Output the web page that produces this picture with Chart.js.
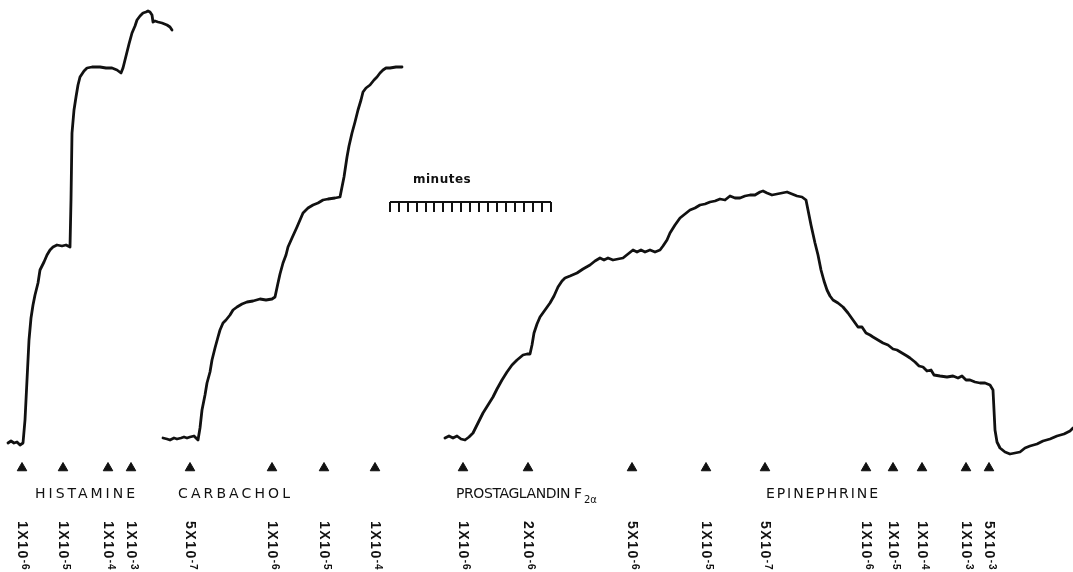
<!DOCTYPE html>
<html>
<head>
<meta charset="utf-8">
<script src="https://cdn.jsdelivr.net/npm/chart.js@4/dist/chart.umd.min.js"></script>
<style>
  html, body { margin: 0; padding: 0; background: #fff; }
  #trace { display: block; }
</style>
</head>
<body>
<canvas id="trace" width="1073" height="572"></canvas>
<script>
// recorder traces (x = time along paper, y = pen position, down is larger)
const histTime = [8, 11, 14, 17, 20, 23, 25, 27, 29, 31, 33, 35, 38, 40, 44, 47, 50, 53, 57, 62, 66, 70, 71, 72, 74, 76, 78, 80, 84, 87, 92, 100, 106, 112, 117, 121, 123, 125, 127, 129, 132, 135, 137, 140, 143, 146, 148, 150, 152, 153, 155, 158, 162, 167, 170, 172]
const histPen  = [443, 441, 443, 442, 445, 443, 420, 380, 340, 318, 305, 295, 283, 270, 262, 255, 250, 247, 245, 246, 245, 247, 200, 133, 110, 97, 85, 77, 71, 68, 67, 67, 68, 68, 70, 73, 68, 60, 52, 44, 33, 26, 20, 16, 13, 12, 11, 12, 15, 22, 21, 22, 23, 25, 27, 30]

const carbTime = [163, 167, 170, 174, 177, 181, 184, 187, 190, 194, 198, 200, 202, 205, 207, 210, 212, 215, 218, 220, 223, 226, 230, 233, 237, 242, 247, 253, 260, 266, 272, 275, 278, 280, 283, 286, 288, 292, 297, 300, 303, 308, 313, 318, 323, 328, 335, 340, 342, 344, 347, 349, 352, 355, 358, 361, 363, 366, 370, 374, 377, 380, 383, 386, 390, 396, 402]
const carbPen  = [438, 439, 440, 438, 439, 438, 437, 438, 437, 436, 440, 428, 410, 395, 383, 372, 360, 348, 337, 330, 323, 320, 315, 310, 307, 304, 302, 301, 299, 300, 299, 297, 283, 274, 263, 255, 247, 238, 227, 220, 213, 208, 205, 203, 200, 199, 198, 197, 187, 177, 157, 146, 133, 122, 110, 100, 92, 88, 85, 80, 77, 73, 70, 68, 68, 67, 67]

const pgTime = [445, 449, 453, 457, 461, 465, 469, 473, 478, 483, 488, 493, 497, 502, 507, 512, 517, 523, 527, 530, 532, 534, 537, 540, 545, 550, 554, 558, 562, 565, 570, 577, 583, 590, 595, 600, 604, 608, 613, 618, 623, 628, 633, 637, 641, 645, 650, 655, 660, 663, 667, 670, 675, 680, 685, 690, 695, 700, 705, 710, 715, 720, 725, 730, 735, 740, 745, 750, 755, 760, 763, 767, 772, 777, 782, 787, 792, 797, 802, 806, 808, 811, 815, 818, 821, 824, 827, 830, 833, 838, 843, 848, 853, 858, 862, 866, 870, 873, 878, 883, 888, 893, 897, 902, 907, 910, 915, 919, 923, 927, 931, 934, 940, 947, 953, 958, 962, 966, 970, 975, 980, 985, 990, 993, 994, 995, 997, 1000, 1005, 1010, 1015, 1020, 1025, 1030, 1037, 1043, 1050, 1057, 1064, 1070, 1073]
const pgPen  = [438, 436, 438, 436, 439, 440, 437, 433, 423, 413, 405, 397, 389, 380, 372, 365, 360, 355, 354, 354, 345, 333, 324, 317, 310, 303, 296, 287, 281, 278, 276, 273, 269, 265, 261, 258, 260, 258, 260, 259, 258, 254, 250, 252, 250, 252, 250, 252, 250, 246, 240, 233, 225, 218, 214, 210, 208, 205, 204, 202, 201, 199, 200, 196, 198, 198, 196, 195, 195, 192, 191, 193, 195, 194, 193, 192, 194, 196, 197, 200, 210, 225, 243, 255, 270, 281, 290, 296, 300, 303, 307, 313, 320, 327, 327, 333, 335, 337, 340, 343, 345, 349, 350, 353, 356, 358, 362, 366, 367, 371, 370, 375, 376, 377, 376, 378, 376, 380, 380, 382, 383, 383, 385, 390, 410, 430, 442, 448, 452, 454, 453, 452, 448, 446, 444, 441, 439, 436, 434, 431, 428]

// drug additions (triangles) and their molar concentrations
const doseTime = [22, 63, 108, 131, 190, 272, 324, 375, 463, 528, 632, 706, 765, 866, 893, 922, 966, 989]
const doseBase = ['1X10', '1X10', '1X10', '1X10', '5X10', '1X10', '1X10', '1X10', '1X10', '2X10', '5X10', '1X10', '5X10', '1X10', '1X10', '1X10', '1X10', '5X10']
const doseExp  = ['-6', '-5', '-4', '-3', '-7', '-6', '-5', '-4', '-6', '-6', '-6', '-5', '-7', '-6', '-5', '-4', '-3', '-3']

const drugNames = ['HISTAMINE', 'CARBACHOL', 'PROSTAGLANDIN F', 'EPINEPHRINE']

// one mark per minute on the time bar
const minuteTicks = [390, 399, 408, 417, 426, 434, 443, 452, 461, 470, 479, 488, 497, 506, 515, 524, 533, 542, 551]

const INK = '#111'
const pts = (xs, ys) => xs.map((x, i) => ({ x: x, y: ys[i] }))

// layout of the hand lettering (not data)
const markRow = 468
const drugRow = 494
const doseTop = 521
const drugLayout = [[35, 135], [178, 290], [456, 582], [766, 878]]
const barRow = 202

const lettering = {
    id: 'lettering',
    afterDatasetsDraw(chart) {
        const ctx = chart.ctx
        const xs = chart.scales.x
        const ys = chart.scales.y
        ctx.save()
        ctx.fillStyle = INK
        ctx.textBaseline = 'middle'

        // drug names, stretched to the lettered width
        drugNames.forEach((name, i) => {
            const [a, b] = drugLayout[i]
            ctx.font = '14px "DejaVu Sans"'
            ctx.letterSpacing = '0px'
            const w = ctx.measureText(name).width
            const sp = ((b - a) - w) / (name.length - 1)
            ctx.letterSpacing = sp.toFixed(2) + 'px'
            ctx.fillText(name, xs.getPixelForValue(a), ys.getPixelForValue(drugRow))
            if (name.startsWith('PROSTAGLANDIN')) {
                ctx.letterSpacing = '0px'
                ctx.font = '10px "DejaVu Sans"'
                ctx.fillText('2α', xs.getPixelForValue(b + 2), ys.getPixelForValue(drugRow + 6))
            }
        })

        // concentrations, written down the page
        doseTime.forEach((t, i) => {
            ctx.save()
            ctx.translate(xs.getPixelForValue(t), ys.getPixelForValue(doseTop))
            ctx.rotate(Math.PI / 2)
            ctx.font = 'bold 14px "Liberation Sans"'
            ctx.letterSpacing = '1.5px'
            ctx.textAlign = 'left'
            ctx.fillText(doseBase[i], 0, 0)
            const w = ctx.measureText(doseBase[i]).width
            ctx.font = 'bold 10px "Liberation Sans"'
            ctx.letterSpacing = '1px'
            ctx.fillText(doseExp[i], w, -3)
            ctx.restore()
        })

        // time bar label
        ctx.letterSpacing = '0.5px'
        ctx.font = 'bold 12px "DejaVu Sans"'
        ctx.fillText('minutes', xs.getPixelForValue(413), ys.getPixelForValue(180))
        ctx.restore()
    }
}

const traceStyle = {
    borderColor: INK,
    borderWidth: 2.8,
    pointRadius: 0,
    fill: false,
    tension: 0,
    borderJoinStyle: 'round',
    borderCapStyle: 'round'
}

new Chart('trace', {
    type: 'line',
    data: {
        datasets: [
            { label: 'Histamine', data: pts(histTime, histPen), ...traceStyle },
            { label: 'Carbachol', data: pts(carbTime, carbPen), ...traceStyle },
            { label: 'Prostaglandin F2α / Epinephrine', data: pts(pgTime, pgPen), ...traceStyle },
            {
                label: 'additions',
                type: 'scatter',
                data: doseTime.map(t => ({ x: t, y: markRow })),
                pointStyle: 'triangle',
                pointRadius: 5.5,
                backgroundColor: INK,
                borderColor: INK,
                borderWidth: 1
            },
            {
                label: 'minute bar',
                data: [{ x: minuteTicks[0], y: barRow }, { x: minuteTicks[minuteTicks.length - 1], y: barRow }],
                borderColor: INK,
                borderWidth: 2,
                pointRadius: 0
            },
            {
                label: 'minute ticks',
                type: 'scatter',
                data: minuteTicks.map(t => ({ x: t, y: barRow + 5 })),
                pointStyle: 'line',
                rotation: 90,
                pointRadius: 5,
                borderColor: INK,
                borderWidth: 2
            }
        ]
    },
    options: {
        responsive: false,
        devicePixelRatio: 1,
        animation: false,
        events: [],
        layout: { padding: 0, autoPadding: false },
        plugins: { legend: { display: false }, tooltip: { enabled: false } },
        scales: {
            x: { type: 'linear', min: 0, max: 1073, display: false },
            y: { type: 'linear', min: 0, max: 572, reverse: true, display: false }
        }
    },
    plugins: [lettering]
})
</script>
</body>
</html>
